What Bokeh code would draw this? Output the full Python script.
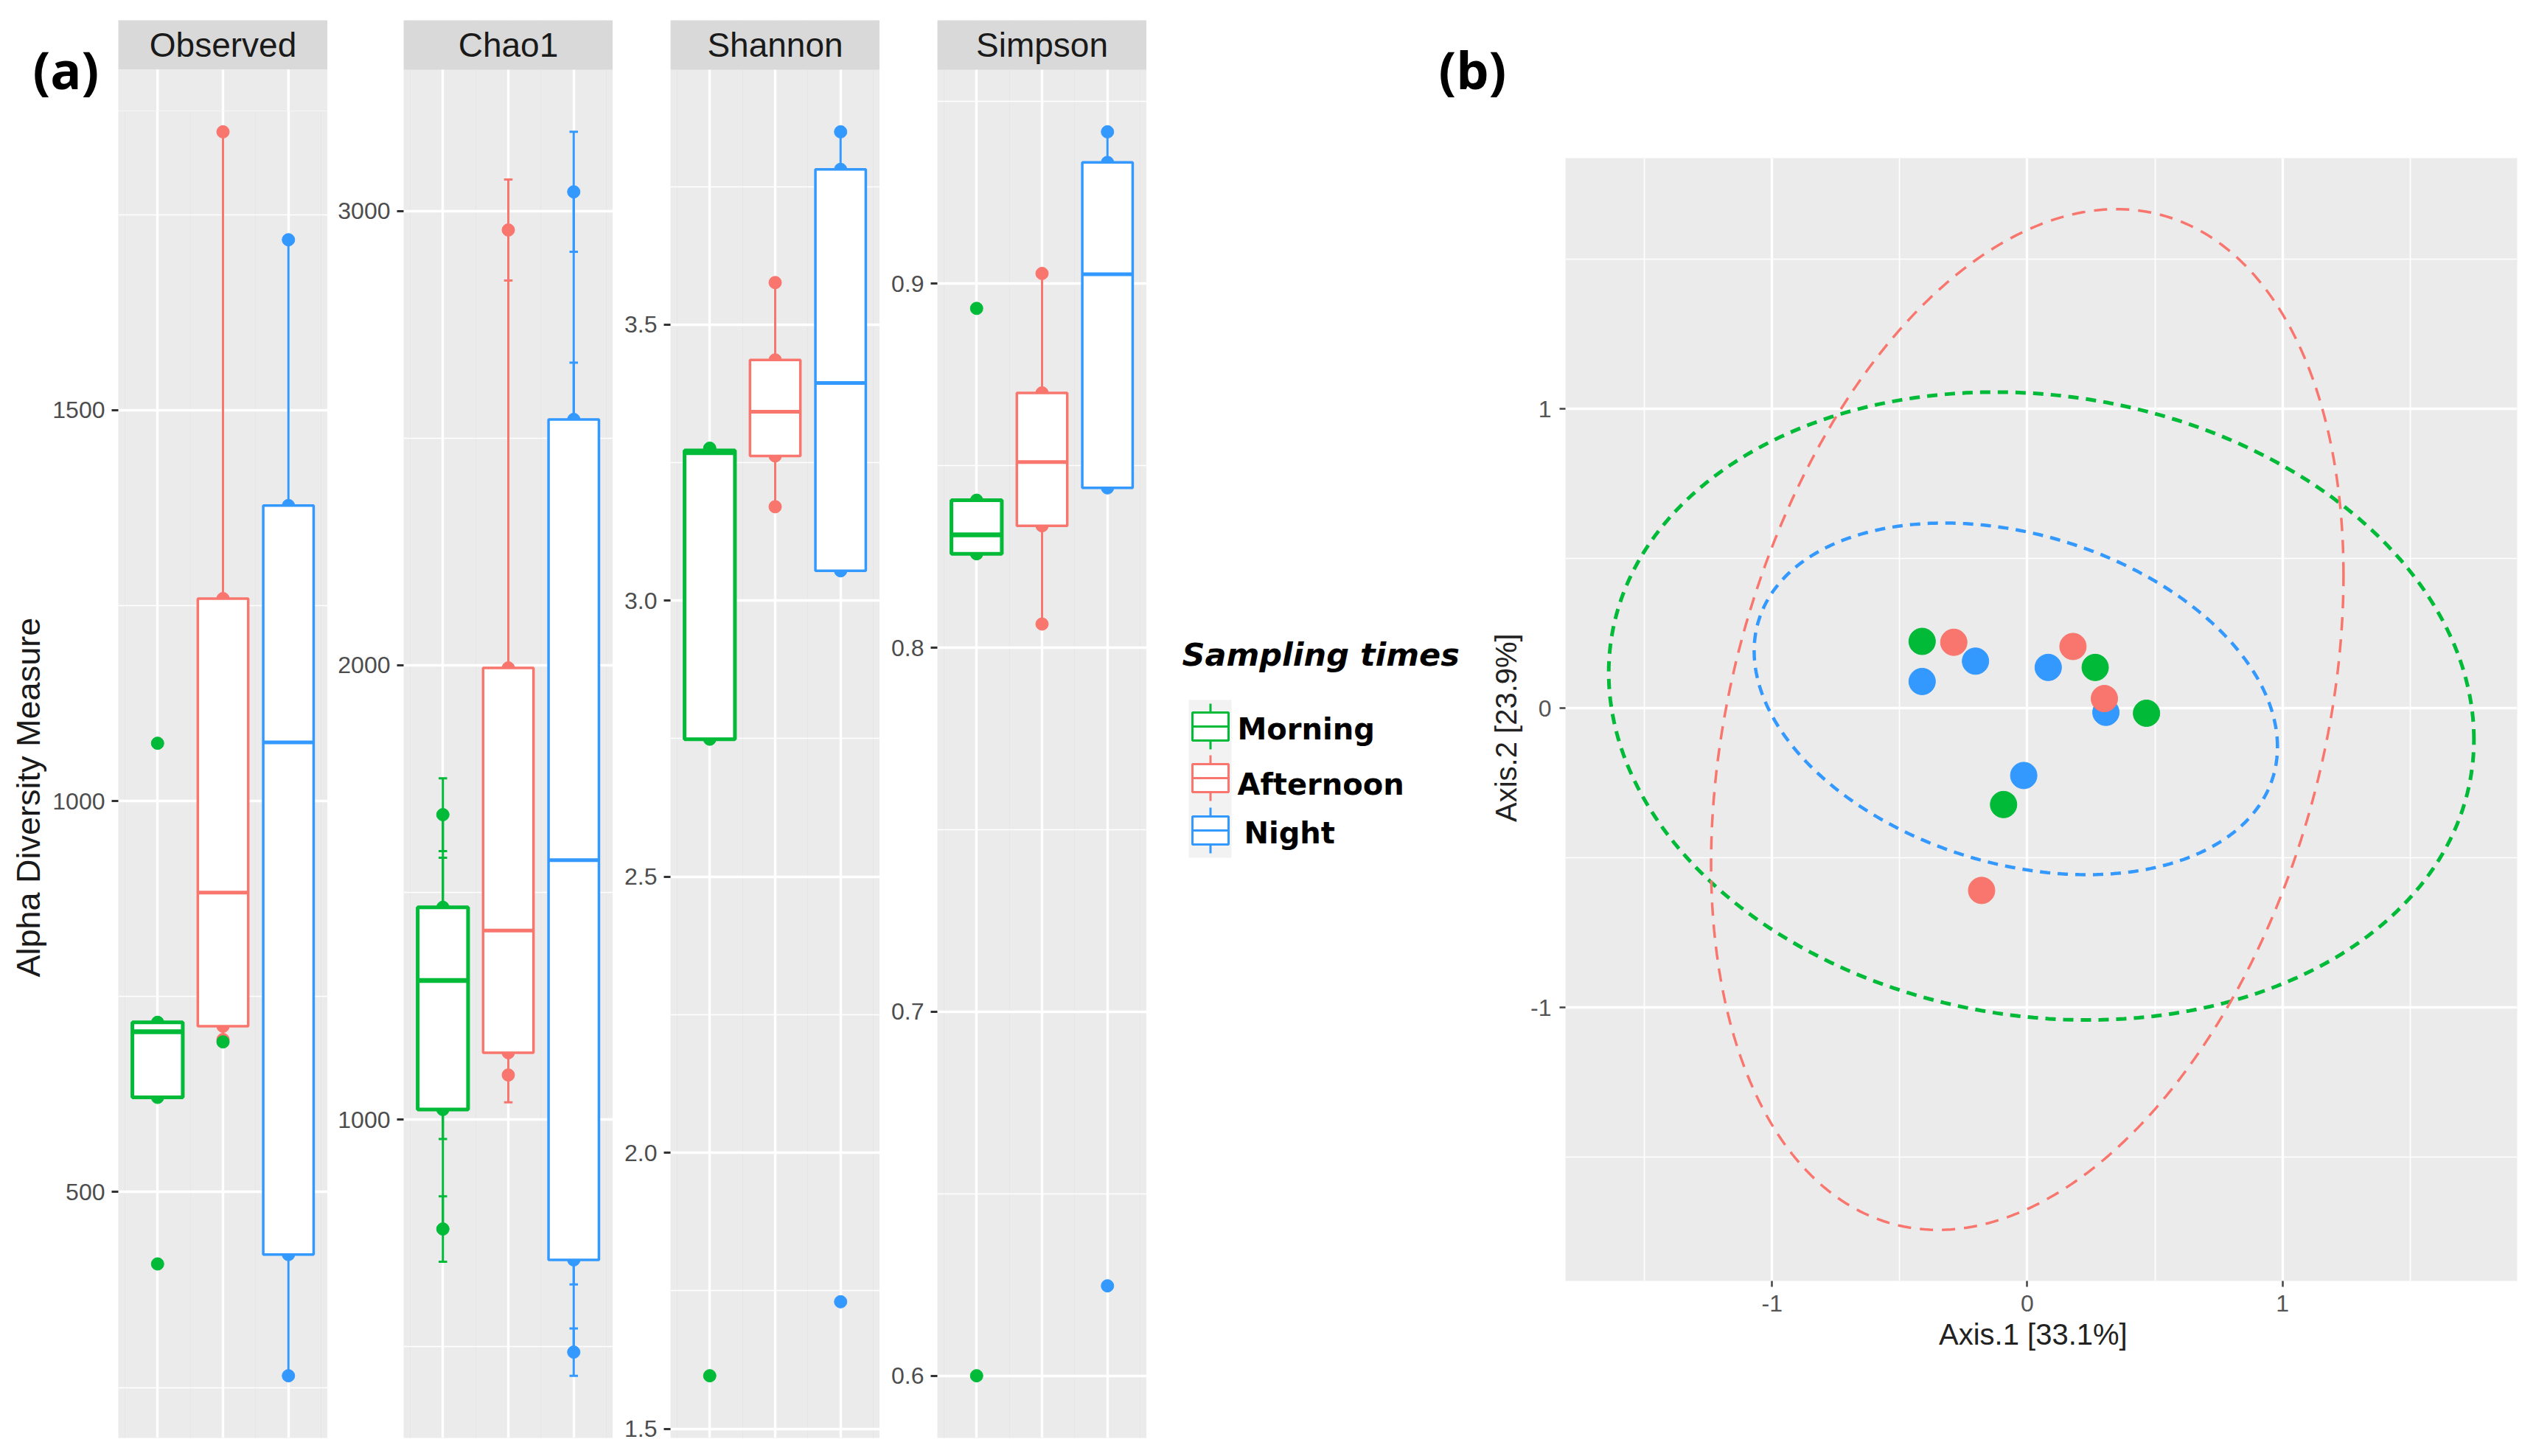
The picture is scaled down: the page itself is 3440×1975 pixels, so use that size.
import numpy as np
from bokeh.plotting import figure
from bokeh.layouts import row, column
from bokeh.models import Range1d, FixedTicker, Grid, PrintfTickFormatter, Title
from bokeh.embed import file_html
from bokeh.resources import INLINE
from bokeh.core.properties import value

# ---------------- data ----------------
GROUPS = ["Morning", "Afternoon", "Night"]
COLORS = ["#00BA38", "#F8766D", "#3399FF"]

OBSERVED = [[408, 621, 705, 717, 1074],
            [695, 712, 883, 1259, 1856],
            [265, 420, 1075, 1378, 1718]]
OBS_EXTRA_POS = ["Afternoon"]      # a Morning-coloured sample drawn on the Afternoon column
OBS_EXTRA_GROUP = ["Morning"]
OBS_EXTRA_VAL = [692]

CHAO1 = [[759, 1022, 1306, 1467, 1671],
         [1098, 1147, 1416, 1994, 2958],
         [488, 691, 1571, 2541, 3042]]
CHAO1_SE = [[72, 65, 80, 109, 80],
            [60, 0, 80, 0, 111],
            [52, 54, 100, 125, 132]]

SHANNON = [[1.596, 2.749, 3.268, 3.272, 3.276],
           [3.170, 3.262, 3.342, 3.436, 3.576],
           [1.730, 3.054, 3.394, 3.781, 3.849]]

SIMPSON = [[0.600, 0.8258, 0.831, 0.8405, 0.8932],
           [0.8065, 0.8335, 0.851, 0.870, 0.9028],
           [0.6247, 0.8439, 0.9026, 0.9333, 0.9417]]

OBS_TICKS = [500, 1000, 1500];            OBS_MINOR = [250, 750, 1250, 1750]
CHAO_TICKS = [1000, 2000, 3000];          CHAO_MINOR = [500, 1500, 2500]
SHAN_TICKS = [1.5, 2.0, 2.5, 3.0, 3.5];   SHAN_MINOR = [1.75, 2.25, 2.75, 3.25, 3.75]
SIMP_TICKS = [0.6, 0.7, 0.8, 0.9];        SIMP_MINOR = [0.65, 0.75, 0.85, 0.95]

# PCoA ordination
PC_GROUP = ["Morning", "Afternoon", "Night", "Night", "Night", "Afternoon", "Morning",
            "Night", "Afternoon", "Morning", "Night", "Morning", "Afternoon"]
PC_X = [-0.412, -0.288, -0.203, -0.412, 0.082, 0.179, 0.266, 0.308, 0.302, 0.467, -0.014, -0.093, -0.179]
PC_Y = [0.223, 0.220, 0.157, 0.089, 0.136, 0.206, 0.136, -0.014, 0.032, -0.017, -0.225, -0.322, -0.609]

# confidence ellipses: centre and shape matrix (sxx, sxy, syy)
ELL_GROUP = ["Morning", "Afternoon", "Night"]
ELL_CX = [0.055, 0.0, -0.045]
ELL_CY = [0.007, -0.038, 0.031]
ELL_SXX = [2.873, 1.535, 1.051]
ELL_SXY = [-0.189, 0.597, -0.164]
ELL_SYY = [1.100, 2.907, 0.345]

PC_TICKS = [-1, 0, 1]; PC_MINOR = [-1.5, -0.5, 0.5, 1.5]

# ---------------- styling / layout ----------------
FONT = "Liberation Sans"
BG = "#EBEBEB"
STRIP_BG = "#D9D9D9"
FRAME_W = 284
TOP = 27
STRIP_H = 67
PANEL_H = 1856
BOTTOM = 10
H = TOP + STRIP_H + PANEL_H + BOTTOM          # 1960
HALF = 0.385
UNIT = FRAME_W / 3.2                           # pixels per category step
col_of = dict(zip(GROUPS, COLORS))
pos_of = {g: i + 1 for i, g in enumerate(GROUPS)}


def plain_fig(width, height, xr, yr):
    p = figure(width=width, height=height, x_range=xr, y_range=yr,
               x_axis_location=None, y_axis_location=None, min_border=0, frame_align=False,
               toolbar_location=None, output_backend="svg")
    p.grid.visible = False
    p.outline_line_color = None
    p.background_fill_color = "white"
    p.border_fill_color = "white"
    return p


def style_y(p, ticks, minor, fmt):
    tk = FixedTicker(ticks=ticks, minor_ticks=minor)
    ax = p.yaxis[0]
    ax.ticker = tk
    ax.formatter = PrintfTickFormatter(format=fmt)
    ax.axis_line_color = None
    ax.major_tick_in = 0
    ax.major_tick_out = 9
    ax.major_tick_line_color = "#333333"
    ax.major_tick_line_width = 3
    ax.minor_tick_line_color = None
    ax.major_label_text_font = FONT
    ax.major_label_text_font_size = "32px"
    ax.major_label_text_color = "#4D4D4D"
    ax.major_label_standoff = 9
    p.ygrid.ticker = tk
    p.ygrid.grid_line_color = "white"
    p.ygrid.grid_line_width = 3.4
    p.ygrid.minor_grid_line_color = "white"
    p.ygrid.minor_grid_line_width = 1.7


def y_limits(samples, se=None):
    lows, highs = [], []
    for gi, s in enumerate(samples):
        for k, v in enumerate(s):
            e = se[gi][k] if se else 0
            lows.append(v - e)
            highs.append(v + e)
    lo, hi = min(lows), max(highs)
    pad = 0.05 * (hi - lo)
    return lo - pad, hi + pad


def draw_boxes(p, samples, se=None):
    # points (and error bars) first, box on top
    for gi, (g, c, s) in enumerate(zip(GROUPS, COLORS, samples)):
        x = gi + 1
        if se:
            e = se[gi]
            keep = [k for k in range(len(s)) if e[k] > 0]
            p.segment(x0=[x] * len(keep), y0=[s[k] - e[k] for k in keep],
                      x1=[x] * len(keep), y1=[s[k] + e[k] for k in keep],
                      line_color=c, line_width=3)
            for sign in (-1, 1):
                p.segment(x0=[x - 0.065] * len(keep), y0=[s[k] + sign * e[k] for k in keep],
                          x1=[x + 0.065] * len(keep), y1=[s[k] + sign * e[k] for k in keep],
                          line_color=c, line_width=3)
        p.scatter(x=[x] * len(s), y=s, size=17, fill_color=c, line_color=c)
    for gi, (g, c, s) in enumerate(zip(GROUPS, COLORS, samples)):
        x = gi + 1
        arr = np.array(s, dtype=float)
        q1, med, q3 = np.percentile(arr, [25, 50, 75])
        iqr = q3 - q1
        wlo = arr[arr >= q1 - 1.5 * iqr].min()
        whi = arr[arr <= q3 + 1.5 * iqr].max()
        lw = 5 if g == "Morning" else 3.5
        p.segment(x0=[x, x], y0=[q3, q1], x1=[x, x], y1=[whi, wlo], line_color=c, line_width=3)
        p.quad(left=[x - HALF], right=[x + HALF], bottom=[q1], top=[q3],
               fill_color="white", line_color=c, line_width=lw)
        p.segment(x0=[x - HALF], y0=[med], x1=[x + HALF], y1=[med], line_color=c,
                  line_width=lw + 1.5)


def base_panel(width, height, left, top, y0, y1):
    p = figure(width=width, height=height, x_range=Range1d(0.4, 3.6),
               y_range=Range1d(y0, y1), x_axis_location=None, frame_align=False,
               min_border_left=left, min_border_right=0, min_border_top=top,
               min_border_bottom=BOTTOM, toolbar_location=None, output_backend="svg")
    p.background_fill_color = BG
    p.border_fill_color = "white"
    p.outline_line_color = None
    p.add_layout(Grid(dimension=0, ticker=FixedTicker(ticks=[1, 2, 3]),
                      grid_line_color="white", grid_line_width=3.4))
    return p


def facet(title, samples, ticks, minor, fmt, left, se=None):
    y0, y1 = y_limits(samples, se)
    ytop = y1 + STRIP_H * (y1 - y0) / PANEL_H
    p = base_panel(left + FRAME_W, H, left, TOP, y0, ytop)
    style_y(p, ticks, minor, fmt)
    draw_boxes(p, samples, se)
    p.quad(left=[0.4], right=[3.6], bottom=[y1], top=[ytop], fill_color=STRIP_BG, line_color=None)
    p.text(x=[2.0], y=[(y1 + ytop) / 2], text=[title], text_font=value(FONT),
           text_font_size="46px", text_color="#1A1A1A", text_align="center",
           text_baseline="middle")
    return p


# ---- Observed: a top band (tag + strip) stacked over the panel ----
L1 = 160
T1 = 150                                   # height of the top band
oy0, oy1 = y_limits(OBSERVED)
oy_cut = oy1 - (T1 - TOP - STRIP_H) * (oy1 - oy0) / PANEL_H

top1 = plain_fig(L1 + FRAME_W, T1, Range1d(0.4 - L1 / UNIT, 3.6), Range1d(T1, 0))
top1.quad(left=[0.4], right=[3.6], top=[TOP], bottom=[TOP + STRIP_H], fill_color=STRIP_BG,
          line_color=None)
top1.quad(left=[0.4], right=[3.6], top=[TOP + STRIP_H], bottom=[T1], fill_color=BG,
          line_color=None)
top1.segment(x0=[1, 2, 3], y0=[TOP + STRIP_H] * 3, x1=[1, 2, 3], y1=[T1] * 3,
             line_color="white", line_width=3.4)
top1.text(x=[2.0], y=[TOP + STRIP_H / 2], text=["Observed"], text_font=value(FONT),
          text_font_size="46px", text_color="#1A1A1A", text_align="center",
          text_baseline="middle")
top1.text(x=[0.4 - (L1 - 44) / UNIT], y=[93], text=["(a)"], text_font=value("Open Sans"),
          text_font_style="bold", text_font_size="70px", text_color="black",
          text_align="left", text_baseline="middle")

pan1 = base_panel(L1 + FRAME_W, H - T1, L1, 0, oy0, oy_cut)
style_y(pan1, OBS_TICKS, OBS_MINOR, "%d")
draw_boxes(pan1, OBSERVED)
pan1.scatter(x=[pos_of[g] for g in OBS_EXTRA_POS], y=OBS_EXTRA_VAL, size=17,
             fill_color=[col_of[g] for g in OBS_EXTRA_GROUP],
             line_color=[col_of[g] for g in OBS_EXTRA_GROUP])
pan1.add_layout(Title(text="Alpha Diversity Measure", align="left", offset=625,
                      text_font=FONT, text_font_size="45px", text_font_style="normal",
                      text_color="#1A1A1A", standoff=10), "left")
f1 = column(top1, pan1)

f2 = facet("Chao1", CHAO1, CHAO_TICKS, CHAO_MINOR, "%d", 103, se=CHAO1_SE)
f3 = facet("Shannon", SHANNON, SHAN_TICKS, SHAN_MINOR, "%.1f", 78)
f4 = facet("Simpson", SIMPSON, SIMP_TICKS, SIMP_MINOR, "%.1f", 78)
X_RIGHT = (L1 + FRAME_W) + (103 + FRAME_W) + 2 * (78 + FRAME_W)   # 1555

# ---------------- right block: tag band over (legend | PCoA) ----------------
TOTAL_W = 3432
TB = 150
X_PC = 2000
topR = plain_fig(TOTAL_W - X_RIGHT, TB, Range1d(X_RIGHT, TOTAL_W), Range1d(TB, 0))
topR.text(x=[1951], y=[93], text=["(b)"], text_font=value("Open Sans"),
          text_font_style="bold", text_font_size="70px", text_color="black",
          text_align="left", text_baseline="middle")

leg = plain_fig(X_PC - X_RIGHT, H - TB, Range1d(X_RIGHT, X_PC), Range1d(H, TB))
leg.text(x=[1603], y=[887], text=["Sampling times"], text_font=value("DejaVu Sans"),
         text_font_style="bold italic", text_font_size="43px", text_color="black",
         text_baseline="middle")
leg.quad(left=[1612], right=[1670], top=[949], bottom=[1163], fill_color="#F2F2F2",
         line_color=None)
KEY_TOP = [966, 1036, 1107]
KEY_TXT_X = [1678, 1678, 1687]
KEY_TXT_Y = [988, 1063, 1129]
for g, c, kt, tx, ty in zip(GROUPS, COLORS, KEY_TOP, KEY_TXT_X, KEY_TXT_Y):
    leg.segment(x0=[1641.5, 1641.5], y0=[kt - 12, kt + 38], x1=[1641.5, 1641.5],
                y1=[kt, kt + 50], line_color=c, line_width=3)
    leg.quad(left=[1617], right=[1666], top=[kt], bottom=[kt + 38], fill_color="white",
             line_color=c, line_width=3)
    leg.segment(x0=[1617], y0=[kt + 19], x1=[1666], y1=[kt + 19], line_color=c, line_width=3)
    leg.text(x=[tx], y=[ty], text=[g], text_font=value("DejaVu Sans"),
             text_font_style="bold", text_font_size="40px", text_color="black",
             text_baseline="middle")

# PCoA
t = np.linspace(0, 2 * np.pi, 361)
ell_xs, ell_ys = [], []
for cx, cy, sxx, sxy, syy in zip(ELL_CX, ELL_CY, ELL_SXX, ELL_SXY, ELL_SYY):
    Lc = np.linalg.cholesky(np.array([[sxx, sxy], [sxy, syy]]))
    pts = Lc @ np.vstack([np.cos(t), np.sin(t)])
    ell_xs.append(cx + pts[0])
    ell_ys.append(cy + pts[1])
allx = np.concatenate(ell_xs + [np.array(PC_X)])
ally = np.concatenate(ell_ys + [np.array(PC_Y)])
px = 0.05 * (allx.max() - allx.min())
py = 0.05 * (ally.max() - ally.min())

PC_FRAME_L, PC_FRAME_R, PC_FRAME_T, PC_FH = 2123, 3414, 214, 1523
pc = figure(width=TOTAL_W - X_PC, height=H - TB,
            x_range=Range1d(allx.min() - px, allx.max() + px),
            y_range=Range1d(ally.min() - py, ally.max() + py),
            min_border_left=PC_FRAME_L - X_PC, min_border_right=TOTAL_W - PC_FRAME_R,
            min_border_top=PC_FRAME_T - TB, min_border_bottom=H - PC_FRAME_T - PC_FH,
            frame_align=False, toolbar_location=None, output_backend="svg")
pc.background_fill_color = BG
pc.border_fill_color = "white"
pc.outline_line_color = None
for ax, grid in ((pc.xaxis[0], pc.xgrid), (pc.yaxis[0], pc.ygrid)):
    tk = FixedTicker(ticks=PC_TICKS, minor_ticks=PC_MINOR)
    ax.ticker = tk
    ax.formatter = PrintfTickFormatter(format="%d")
    ax.axis_line_color = None
    ax.major_tick_in = 0
    ax.major_tick_out = 8
    ax.major_tick_line_color = "#444444"
    ax.major_tick_line_width = 2.5
    ax.minor_tick_line_color = None
    ax.major_label_text_font = FONT
    ax.major_label_text_font_size = "32px"
    ax.major_label_text_color = "#555555"
    ax.major_label_standoff = 11
    ax.axis_label_text_font = FONT
    ax.axis_label_text_font_size = "40px"
    ax.axis_label_text_font_style = "normal"
    ax.axis_label_text_color = "#222222"
    grid.ticker = tk
    grid.grid_line_color = "white"
    grid.grid_line_width = 3.4
    grid.minor_grid_line_color = "white"
    grid.minor_grid_line_width = 1.7
pc.xaxis.axis_label = "Axis.1   [33.1%]"
pc.xaxis.axis_label_standoff = 6
pc.yaxis.axis_label = "Axis.2   [23.9%]"
pc.yaxis.axis_label_standoff = 8

ELL_STYLE = {"Morning": ("14 10", 5), "Afternoon": ("18 12", 3.5), "Night": ("14 10", 4.5)}
for g, xs, ys in zip(ELL_GROUP, ell_xs, ell_ys):
    dash, w = ELL_STYLE[g]
    pc.line(xs, ys, line_color=col_of[g], line_width=w, line_dash=dash)

pc.scatter(x=PC_X, y=PC_Y, size=36, fill_color=[col_of[g] for g in PC_GROUP],
           line_color=[col_of[g] for g in PC_GROUP])

right_block = column(topR, row(leg, pc))
layout = row(f1, f2, f3, f4, right_block)
open("out.html", "w").write(file_html(layout, INLINE))
